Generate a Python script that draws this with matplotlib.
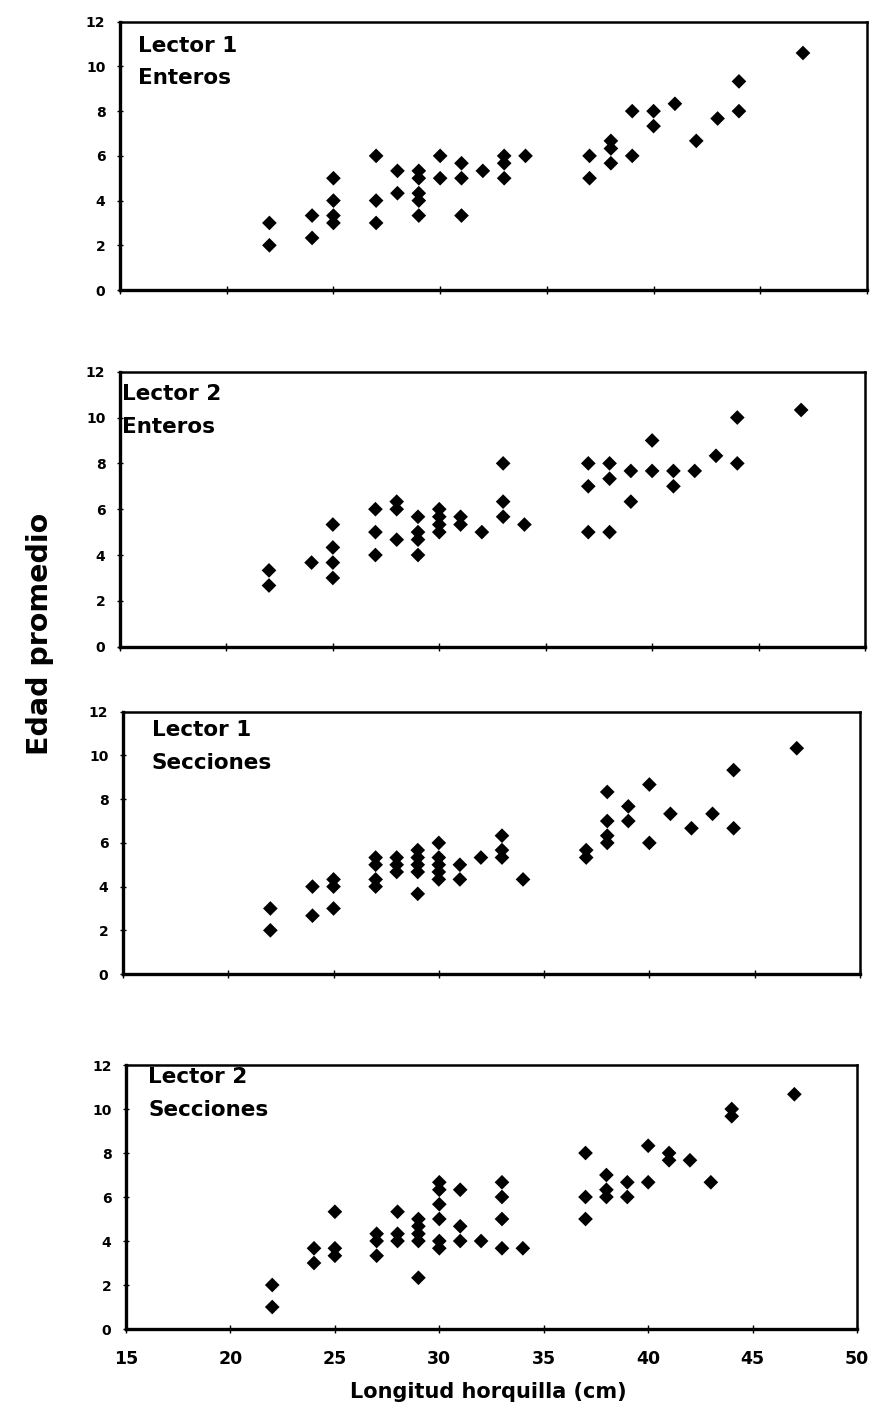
import numpy as np
import matplotlib.pyplot as plt

plt.rcParams["font.family"] = "DejaVu Sans"

# Lector 1 - Enteros
x_l1_ent = [22, 22, 24, 24, 25, 25, 25, 25, 27, 27, 27, 28, 28, 29, 29, 29, 29, 29,
            30, 30, 31, 31, 31, 32, 33, 33, 33, 34, 37, 37, 38, 38, 38, 39, 39,
            40, 40, 41, 42, 43, 44, 44, 47]
y_l1_ent = [3, 2, 3.33, 2.33, 5, 4, 3.33, 3, 6, 4, 3, 5.33, 4.33, 5.33, 5, 4.33, 4, 3.33,
            6, 5, 5.67, 5, 3.33, 5.33, 6, 5.67, 5, 6, 6, 5, 6.67, 6.33, 5.67, 8, 6,
            8, 7.33, 8.33, 6.67, 7.67, 9.33, 8, 10.6]

# Lector 2 - Enteros
x_l2_ent = [22, 22, 24, 25, 25, 25, 25, 27, 27, 27, 28, 28, 28, 29, 29, 29, 29,
            30, 30, 30, 30, 31, 31, 32, 33, 33, 33, 34, 37, 37, 37, 38, 38, 38,
            39, 39, 40, 40, 41, 41, 42, 43, 44, 44, 47]
y_l2_ent = [3.33, 2.67, 3.67, 5.33, 4.33, 3.67, 3, 6, 5, 4, 6.33, 6, 4.67, 5.67, 5, 4.67, 4,
            6, 5.67, 5.33, 5, 5.67, 5.33, 5, 8, 6.33, 5.67, 5.33, 8, 7, 5, 8, 7.33, 5,
            7.67, 6.33, 9, 7.67, 7.67, 7, 7.67, 8.33, 10, 8, 10.33]

# Lector 1 - Secciones
x_l1_sec = [22, 22, 24, 24, 25, 25, 25, 27, 27, 27, 27, 28, 28, 28, 29, 29, 29, 29, 29,
            30, 30, 30, 30, 30, 31, 31, 32, 33, 33, 33, 34, 37, 37, 38, 38, 38, 38,
            39, 39, 40, 40, 41, 42, 43, 44, 44, 47]
y_l1_sec = [3, 2, 4, 2.67, 4.33, 4, 3, 5.33, 5, 4.33, 4, 5.33, 5, 4.67, 5.67, 5.33, 5, 4.67, 3.67,
            6, 5.33, 5, 4.67, 4.33, 5, 4.33, 5.33, 6.33, 5.67, 5.33, 4.33, 5.67, 5.33, 8.33, 7, 6.33, 6,
            7.67, 7, 8.67, 6, 7.33, 6.67, 7.33, 9.33, 6.67, 10.33]

# Lector 2 - Secciones
x_l2_sec = [22, 22, 24, 24, 25, 25, 25, 27, 27, 27, 28, 28, 28, 29, 29, 29, 29, 29,
            30, 30, 30, 30, 30, 30, 31, 31, 31, 32, 33, 33, 33, 33, 34, 37, 37, 37,
            38, 38, 38, 39, 39, 40, 40, 41, 41, 42, 43, 44, 44, 47]
y_l2_sec = [2, 1, 3.67, 3, 5.33, 3.67, 3.33, 4.33, 4, 3.33, 5.33, 4.33, 4, 5, 4.67, 4.33, 4, 2.33,
            6.67, 6.33, 5.67, 5, 4, 3.67, 6.33, 4.67, 4, 4, 6.67, 6, 5, 3.67, 3.67, 8, 6, 5,
            7, 6.33, 6, 6.67, 6, 8.33, 6.67, 8, 7.67, 7.67, 6.67, 10, 9.67, 10.67]

panels = [
    (x_l1_ent, y_l1_ent, 'Lector 1', 'Enteros', [0.1373, 0.7940, 0.8547, 0.1906], (15.85, 10.66, 9.22)),
    (x_l2_ent, y_l2_ent, 'Lector 2', 'Enteros', [0.1373, 0.5407, 0.8524, 0.1953], (15.1, 10.78, 9.32)),
    (x_l1_sec, y_l1_sec, 'Lector 1', 'Secciones', [0.1407, 0.3082, 0.8432, 0.1863], (16.36, 10.88, 9.36)),
    (x_l2_sec, y_l2_sec, 'Lector 2', 'Secciones', [0.1442, 0.0561, 0.8364, 0.1875], (16.07, 11.2, 9.68)),
]

fig = plt.figure(figsize=(8.74, 14.08), dpi=100)

for i, (xs, ys, t1, t2, rect, tpos) in enumerate(panels):
    ax = fig.add_axes(rect)
    ax.scatter(xs, ys, marker='D', s=56, color='black', edgecolor='none', zorder=3)
    ax.set_xlim(15, 50)
    ax.set_ylim(0, 12)
    ax.set_xticks(np.arange(15, 51, 5))
    ax.set_yticks(np.arange(0, 13, 2))
    for side in ['top', 'right']:
        ax.spines[side].set_linewidth(1.8)
    for side in ['left', 'bottom']:
        ax.spines[side].set_linewidth(2.4)
    ax.tick_params(axis='y', direction='inout', length=5, width=1, labelsize=10, pad=8)
    ax.tick_params(axis='x', direction='inout', length=6, width=1, labelsize=12.5, pad=12)
    for lab in ax.get_yticklabels() + ax.get_xticklabels():
        lab.set_fontweight('bold')
    if i < 3:
        ax.set_xticklabels([])
    ax.text(tpos[0], tpos[1], t1, fontsize=15.5, fontweight='bold', va='baseline', ha='left')
    ax.text(tpos[0], tpos[2], t2, fontsize=15.5, fontweight='bold', va='baseline', ha='left')

fig.text(488 / 874, 1 - 1398 / 1408, 'Longitud horquilla (cm)', fontsize=15,
         fontweight='bold', ha='center', va='baseline')
fig.text(40 / 874, 1 - 634 / 1408, 'Edad promedio', fontsize=20.5,
         fontweight='bold', rotation=90, ha='center', va='center')

fig.savefig('out.png', dpi=100)
